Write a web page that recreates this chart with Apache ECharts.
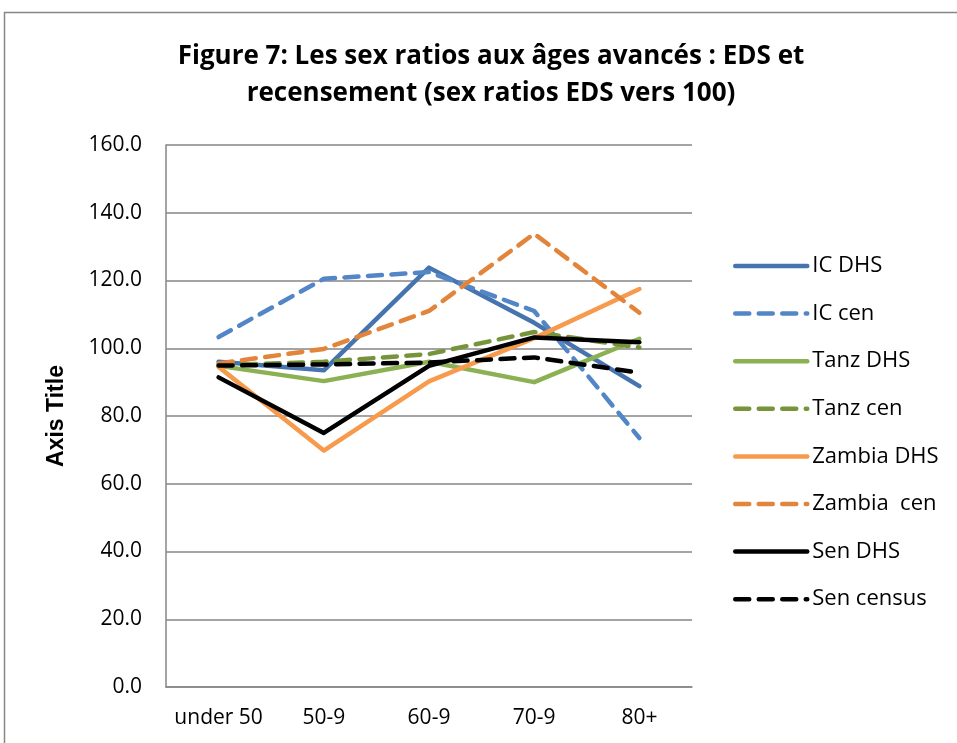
<!DOCTYPE html>
<html>
<head>
<meta charset="utf-8">
<script src="https://cdn.jsdelivr.net/npm/echarts@6/dist/echarts.min.js"></script>
<style>
  html, body { margin: 0; padding: 0; background: #fff; }
  #main { width: 957px; height: 743px; }
</style>
</head>
<body>
<div id="main"></div>
<script>
// categories and values
var ages = ['under 50', '50-9', '60-9', '70-9', '80+'];
var icDhs = [96.0, 93.5, 123.8, 107.5, 88.8];
var icCen = [103.3, 120.5, 122.5, 111.0, 73.5];
var tanzDhs = [94.8, 90.3, 96.0, 90.0, 102.8];
var tanzCen = [95.0, 96.0, 98.3, 104.8, 100.2];
var zamDhs = [94.5, 69.8, 90.2, 103.0, 117.5];
var zamCen = [95.5, 99.8, 111.0, 133.8, 110.5];
var senDhs = [91.4, 75.0, 94.8, 103.2, 101.8];
var senCen = [94.9, 95.2, 95.8, 97.3, 92.8];

var fontName = '"Open Sans", sans-serif';

function ln(name, data, color, dashed) {
    return {
        name: name,
        type: 'line',
        data: data,
        symbol: 'none',
        lineStyle: {
            color: color,
            width: 4.5,
            type: dashed ? [14, 9.5] : 'solid',
            cap: 'round',
            join: 'round'
        },
        itemStyle: { color: color }
    };
}

var myChart = echarts.init(document.getElementById('main'));
myChart.setOption({
    animation: false,
    textStyle: { fontFamily: fontName },
    title: {
        text: 'Figure 7: Les sex ratios aux âges avancés : EDS et\nrecensement (sex ratios EDS vers 100)',
        left: 486,
        top: 33,
        textAlign: 'center',
        textStyle: {
            fontSize: 26,
            fontWeight: 'bold',
            color: '#000',
            lineHeight: 37,
            fontFamily: fontName
        }
    },
    graphic: [{
        type: 'rect',
        shape: { x: 4.5, y: 12.5, width: 1000, height: 800 },
        style: { fill: 'none', stroke: '#868686', lineWidth: 1.5 },
        silent: true
    }],
    legend: {
        orient: 'vertical',
        left: 733,
        top: 251,
        padding: 0,
        itemWidth: 72,
        itemHeight: 14,
        itemGap: 17.6,
        itemStyle: { opacity: 0 },
        lineStyle: { width: 4.5, cap: 'round' },
        textStyle: { fontSize: 22, color: '#000', lineHeight: 30 },
        data: ['IC DHS', 'IC cen', 'Tanz DHS', 'Tanz cen', 'Zambia DHS', 'Zambia  cen', 'Sen DHS', 'Sen census']
    },
    grid: { left: 166, right: 265, top: 145, bottom: 56 },
    xAxis: {
        type: 'category',
        data: ages,
        boundaryGap: true,
        axisLine: { lineStyle: { color: '#868686', width: 1.5 } },
        axisTick: { show: false },
        axisLabel: { color: '#000', fontSize: 21, margin: 21, interval: 0 }
    },
    yAxis: {
        type: 'value',
        min: 0,
        max: 160,
        interval: 20,
        name: 'Axis Title',
        nameLocation: 'middle',
        nameGap: 98,
        nameTextStyle: { fontSize: 23, fontWeight: 'bold', color: '#000', fontFamily: '"Liberation Sans", Arial, sans-serif' },
        axisLine: { show: true, lineStyle: { color: '#868686', width: 1.5 } },
        axisTick: { show: false },
        splitLine: { lineStyle: { color: '#868686', width: 1.5 } },
        axisLabel: {
            color: '#000',
            fontSize: 21,
            margin: 24,
            formatter: function (v) { return v.toFixed(1); }
        }
    },
    series: [
        ln('IC DHS', icDhs, '#4674AE', false),
        ln('IC cen', icCen, '#5286C6', true),
        ln('Tanz DHS', tanzDhs, '#8CB153', false),
        ln('Tanz cen', tanzCen, '#76953B', true),
        ln('Zambia DHS', zamDhs, '#F79A4B', false),
        ln('Zambia  cen', zamCen, '#E2853A', true),
        ln('Sen DHS', senDhs, '#000000', false),
        ln('Sen census', senCen, '#000000', true)
    ]
});
</script>
</body>
</html>
